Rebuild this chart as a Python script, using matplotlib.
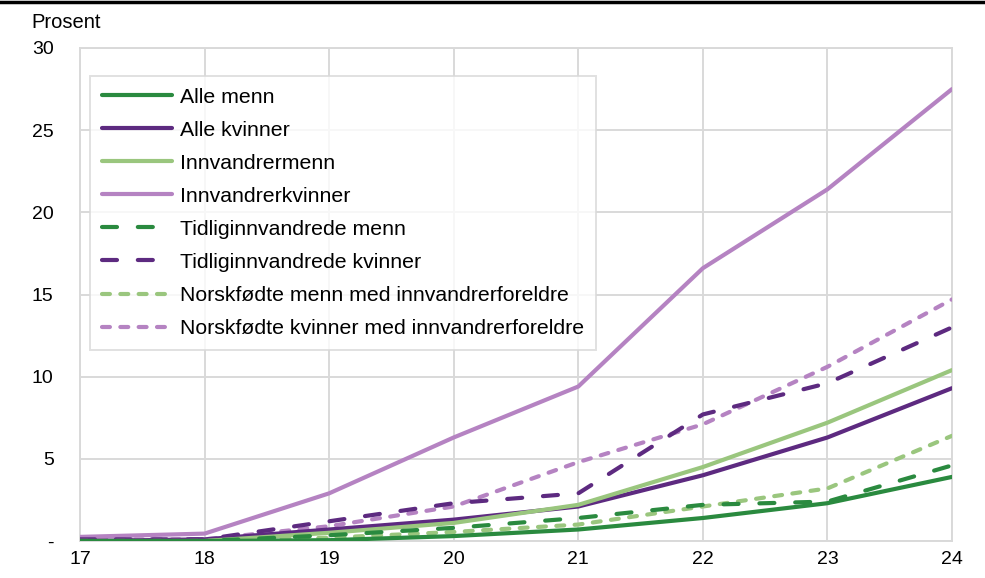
import matplotlib.pyplot as plt
from matplotlib.lines import Line2D

plt.rcParams['font.family'] = ['Liberation Sans', 'DejaVu Sans']

ages = [17, 18, 19, 20, 21, 22, 23, 24]

alle_menn = [0.0, 0.0, 0.05, 0.3, 0.7, 1.4, 2.3, 3.9]
alle_kvinner = [0.0, 0.1, 0.7, 1.3, 2.1, 4.0, 6.3, 9.3]
innv_menn = [0.0, 0.0, 0.5, 1.1, 2.2, 4.5, 7.2, 10.4]
innv_kvinner = [0.25, 0.45, 2.9, 6.3, 9.4, 16.6, 21.4, 27.5]
tidl_menn = [0.0, 0.0, 0.35, 0.8, 1.4, 2.2, 2.4, 4.6]
tidl_kvinner = [0.1, 0.1, 1.2, 2.3, 2.9, 7.7, 9.6, 13.0]
norsk_menn = [0.0, 0.0, 0.2, 0.55, 1.0, 2.1, 3.2, 6.4]
norsk_kvinner = [0.1, 0.1, 0.9, 2.1, 4.8, 7.1, 10.6, 14.7]

labels = ["Alle menn", "Alle kvinner", "Innvandrermenn", "Innvandrerkvinner",
          "Tidliginnvandrede menn", "Tidliginnvandrede kvinner",
          "Norskfødte menn med innvandrerforeldre",
          "Norskfødte kvinner med innvandrerforeldre"]

dgreen = "#2a8a3f"
dpurple = "#5d2a80"
lgreen = "#9ac67e"
lpurple = "#b583c2"

series = [alle_menn, alle_kvinner, innv_menn, innv_kvinner,
          tidl_menn, tidl_kvinner, norsk_menn, norsk_kvinner]
colors = [dgreen, dpurple, lgreen, lpurple, dgreen, dpurple, lgreen, lpurple]
solid = (0, ())
long_dash = (0, (3.6, 5.0))
short_dash = (0, (1.9, 2.5))
styles = [solid, solid, solid, solid, long_dash, long_dash, short_dash, short_dash]
LW = 3.0

fig = plt.figure(figsize=(9.85, 5.78), dpi=100)
ax = fig.add_axes([80 / 985, 1 - 541 / 578, 872 / 985, 493 / 578])

# draw the back ones first so the order on top matches the picture
order = [3, 7, 5, 1, 2, 6, 4, 0]
for i in order:
    ax.plot(ages, series[i], color=colors[i], linestyle=styles[i], lw=LW,
            dash_capstyle="round", solid_capstyle="round", zorder=3)

ax.set_xlim(17, 24)
ax.set_ylim(0, 30)
ax.set_xticks(ages)
ax.set_yticks([0, 5, 10, 15, 20, 25, 30])
ax.set_yticklabels(["-", "5", "10", "15", "20", "25", "30"])
ax.tick_params(labelsize=14, length=0, colors="black")
ax.tick_params(axis="y", pad=19)
ax.tick_params(axis="x", pad=7)
ax.grid(True, color="#d9d9d9", lw=1.4)
ax.set_axisbelow(True)
for sp in ax.spines.values():
    sp.set_color("#d9d9d9")
    sp.set_linewidth(1.4)

handles = [Line2D([0], [0], color=colors[i], linestyle=styles[i], lw=LW,
                  dash_capstyle="round", solid_capstyle="round")
           for i in range(8)]
leg = ax.legend(handles, labels, loc="upper left", bbox_to_anchor=(0.0115, 0.943),
                fontsize=15.3, frameon=True, fancybox=False, handlelength=3.3,
                handletextpad=0.4, labelspacing=0.66, borderpad=0.55,
                borderaxespad=0)
leg.get_frame().set_edgecolor("#d9d9d9")
leg.get_frame().set_linewidth(1.4)

fig.text(31 / 985, 1 - 22 / 578, "Prosent", fontsize=14.5, va="center", ha="left")
fig.add_artist(Line2D([0, 1], [1 - 1.5 / 578, 1 - 1.5 / 578], color="black",
                      lw=2.5, transform=fig.transFigure))

fig.savefig("out.png", dpi=100)
